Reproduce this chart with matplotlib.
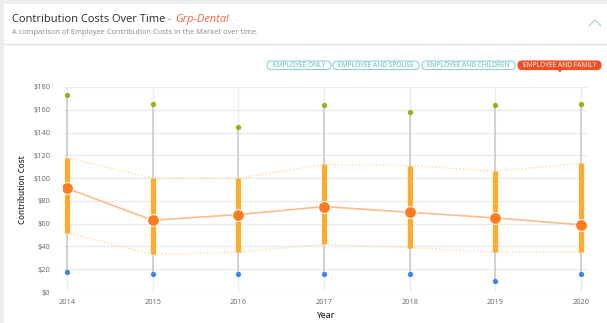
"""Contribution cost ranges per year for the Grp-Dental market."""
import matplotlib
matplotlib.use("Agg")
import matplotlib.pyplot as plt
from matplotlib.patches import FancyBboxPatch, Rectangle, Polygon

plt.rcParams["font.family"] = ["Open Sans", "DejaVu Sans"]

# --- data ---------------------------------------------------------------
years = [2014, 2015, 2016, 2017, 2018, 2019, 2020]
max_cost = [173, 165, 145, 164, 158, 164, 165]
min_cost = [18, 16, 16, 16, 16, 10, 16]
upper_cost = [118, 100, 100, 112, 111, 106, 113]
lower_cost = [52, 33, 35, 42, 39, 35, 35]
avg_cost = [91, 63, 68, 75, 70, 65, 59]

y_ticks = [0, 20, 40, 60, 80, 100, 120, 140, 160, 180]
tabs = ["EMPLOYEE ONLY", "EMPLOYEE AND SPOUSE", "EMPLOYEE AND CHILDREN", "EMPLOYEE AND FAMILY"]
active_tab = "EMPLOYEE AND FAMILY"

W, H = 607, 323
fig = plt.figure(figsize=(W / 100, H / 100), dpi=100)
fig.patch.set_facecolor("#ececec")

# pixel-space overlay for the card, header and tabs
ov = fig.add_axes([0, 0, 1, 1], zorder=0)
ov.set_xlim(0, W)
ov.set_ylim(H, 0)
ov.axis("off")
ov.add_patch(Rectangle((4, 4), W - 4, H - 4, facecolor="white", edgecolor="none"))
ov.plot([4, W], [44, 44], color="#e3e3e3", lw=1)

title = ov.text(12, 22, "Contribution Costs Over Time", fontsize=8.0, color="#2b2b2b",
                va="baseline", ha="left")
dash = ov.annotate(" - ", xy=(1, 0), xycoords=title, fontsize=8.0, color="#f06a45",
                   va="bottom", ha="left")
ov.annotate("Grp-Dental", xy=(1, 0), xycoords=dash, fontsize=8.0, color="#f06a45",
            style="italic", va="bottom", ha="left")
ov.text(12, 34, "A comparison of Employee Contribution Costs in the Market over time.",
        fontsize=5.4, color="#8a8a8a", va="baseline", ha="left")

# collapse chevron
ov.plot([589, 595, 601], [26, 20, 26], color="#a9dcdc", lw=1, solid_capstyle="round")

# tab buttons
tab_x = [(267, 331), (333, 419), (422, 515), (518, 601)]
for label, (x0, x1) in zip(tabs, tab_x):
    active = label == active_tab
    ov.add_patch(FancyBboxPatch((x0, 61), x1 - x0, 8.5,
                                boxstyle="round,pad=0,rounding_size=4",
                                facecolor="#f04f24" if active else "white",
                                edgecolor="#f04f24" if active else "#8fd2d4", lw=0.8))
    ov.text((x0 + x1) / 2, 65.4, label, fontsize=4.8, ha="center", va="center",
            color="white" if active else "#58b6ba")
    if active:
        cx = (x0 + x1) / 2 + 0.5
        ov.add_patch(Polygon([(cx - 3, 69), (cx + 3, 69), (cx, 72.5)],
                             facecolor="#f04f24", edgecolor="none"))

# --- chart --------------------------------------------------------------
left, right, top, bottom = 63, 587, 87, 292
ax = fig.add_axes([left / W, (H - bottom) / H, (right - left) / W, (bottom - top) / H], zorder=1)
ax.set_facecolor("none")

ax.set_xlim(years[0] - 4 / 85.8, years[-1] + 6 / 85.8)
ax.set_ylim(0, 180)

for s in ax.spines.values():
    s.set_visible(False)
ax.set_yticks(y_ticks)
ax.set_yticklabels([f"${v}" for v in y_ticks])
ax.set_xticks(years)
ax.set_xticklabels([str(y) for y in years])
ax.tick_params(length=0, labelsize=5.3, labelcolor="#666666")
ax.tick_params(axis="y", pad=9)
ax.tick_params(axis="x", pad=5)
ax.grid(True, color="#ebebeb", lw=1)
ax.set_axisbelow(True)

ax.vlines(years, min_cost, max_cost, color="#c9c9c9", lw=1.1, zorder=2)
ax.plot(years, upper_cost, ls=(0, (1, 1.5)), color="#ffd7a6", lw=1, zorder=2)
ax.plot(years, lower_cost, ls=(0, (1, 1.5)), color="#ffd7a6", lw=1, zorder=2)
ax.vlines(years, lower_cost, upper_cost, color="#ffab2b", lw=3.7, zorder=3)
ax.plot(years, avg_cost, color="#ffbb8e", lw=1.2, zorder=4)
ax.plot(years, avg_cost, ls="none", marker="o", ms=8.5, color="#ff7b1f",
        mec="white", mew=0.7, zorder=5)
ax.plot(years, max_cost, ls="none", marker="o", ms=3.8, color="#8cb81a", mew=0, zorder=5)
ax.plot(years, min_cost, ls="none", marker="o", ms=3.8, color="#3a86ee", mew=0, zorder=5)

ax.set_ylabel("Contribution Cost", fontsize=5.8, color="#333333", fontweight="semibold",
              labelpad=5)
ax.set_xlabel("Year", fontsize=6.2, color="#333333", fontweight="semibold", labelpad=4)

fig.savefig("out.png", dpi=100, facecolor=fig.get_facecolor())
